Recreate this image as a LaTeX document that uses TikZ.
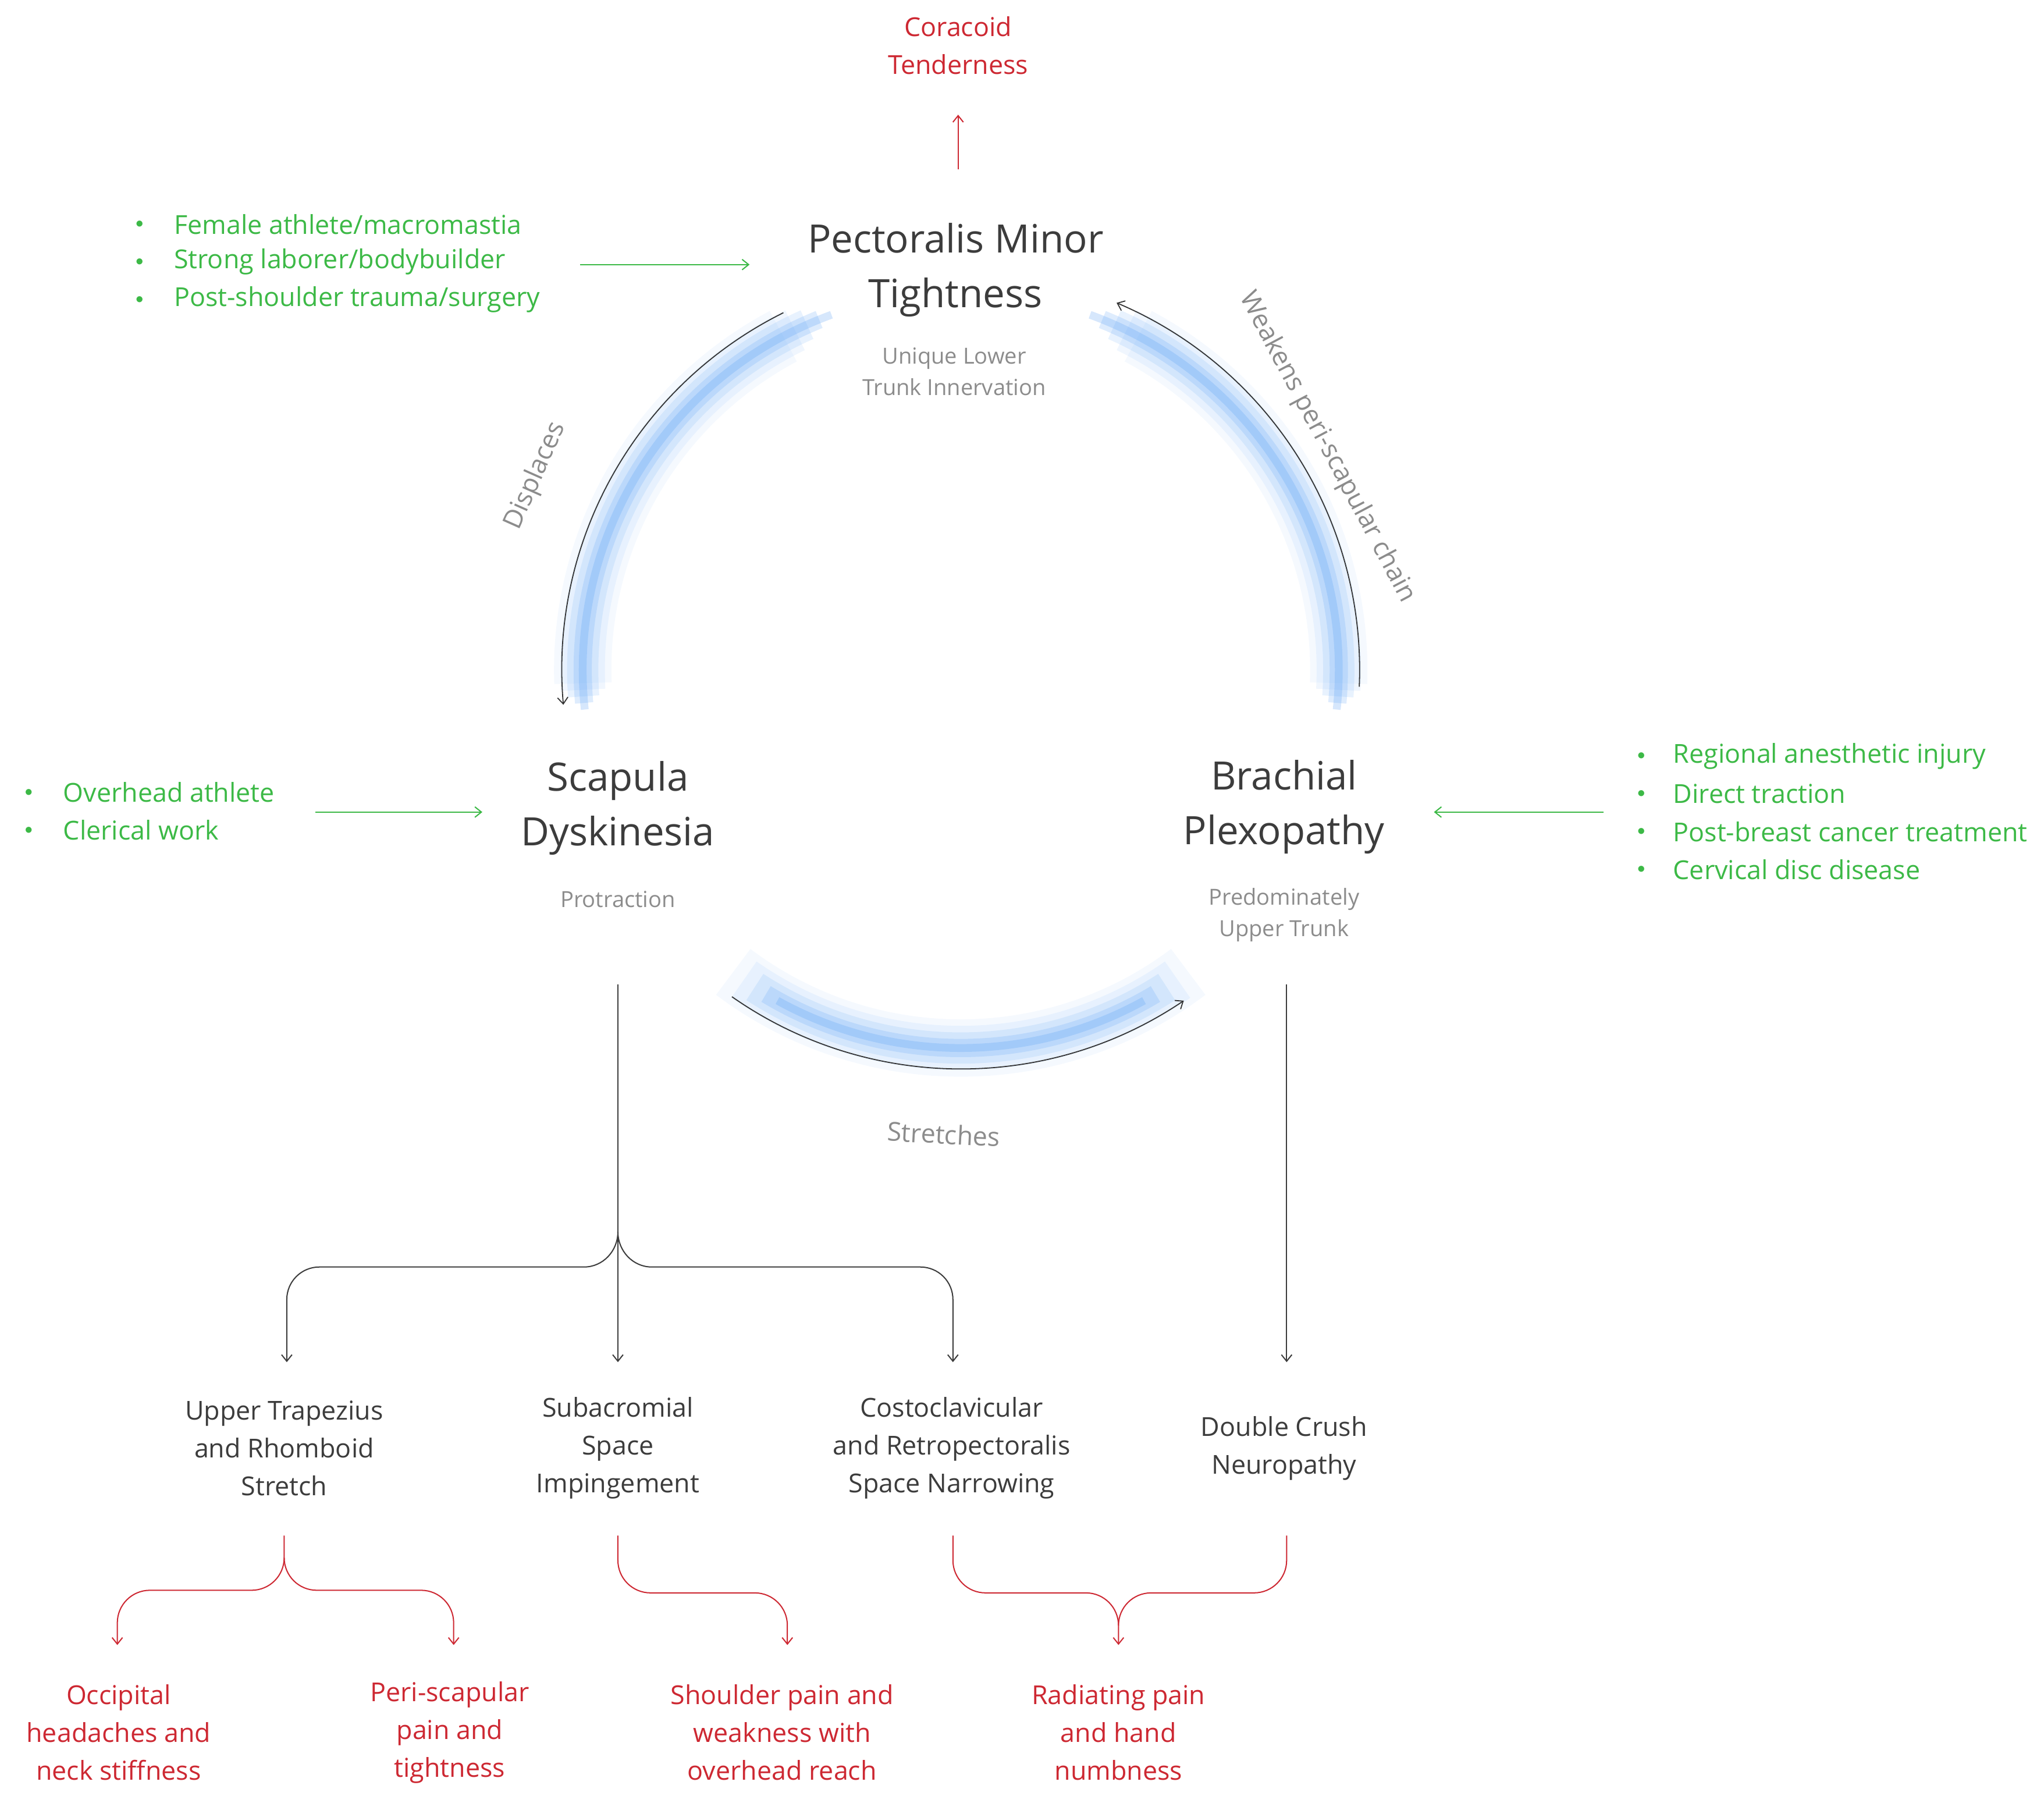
\documentclass[tikz,border=0pt]{standalone}
\usepackage{fontspec}
\setmainfont{Open Sans}
\usetikzlibrary{arrows.meta}
\definecolor{grn}{RGB}{60,185,70}
\definecolor{rd}{RGB}{205,40,50}
\definecolor{dk}{RGB}{60,60,60}
\definecolor{gy}{RGB}{140,140,140}
\definecolor{bl}{RGB}{90,160,245}
\tikzset{
 arr/.style={-{Straight Barb[length=5pt,width=8pt]},line width=0.9pt},
 body/.style={font=\fontsize{20}{29}\selectfont,align=center,text=dk},
 redt/.style={font=\fontsize{20}{29}\selectfont,align=center,text=rd},
 title/.style={font=\fontsize{30}{42}\selectfont,align=center,text=dk},
 sub/.style={font=\fontsize{17}{24}\selectfont,align=center,text=gy},
 lst/.style={font=\fontsize{20}{29}\selectfont,align=left,text=grn,anchor=west},
 lbl/.style={font=\fontsize{20}{24}\selectfont,text=gy},
 bul/.style={text=grn,font=\fontsize{12}{12}\selectfont}
}
\begin{document}
\begin{tikzpicture}[x=1pt,y=-1pt]
\useasboundingbox (0,0) rectangle (1568,1383);
\coordinate (C) at (737,514);
% glows
\foreach \w/\o/\a in {44/0.06/0,34/0.09/2,24/0.14/4,14/0.2/6,6/0.25/8}{
 \draw[bl,line width=\w pt,opacity=\o] ([shift={(-118+\a:290)}]C) arc[start angle=-118+\a,end angle=-182-\a/2,radius=290];
 \draw[bl,line width=\w pt,opacity=\o] ([shift={(-62-\a:290)}]C) arc[start angle=-62-\a,end angle=2+\a/2,radius=290];
 \draw[bl,line width=\w pt,opacity=\o] ([shift={(127-\a:290)}]C) arc[start angle=127-\a,end angle=53+\a,radius=290];
}
% arcs
\coordinate (la) at ([shift={(-116.4:306)}]C);
\coordinate (ra) at ([shift={(2.4:306)}]C);
\coordinate (ba) at ([shift={(125:306)}]C);
\draw[arr,line width=0.8pt,black!80] (la) arc[start angle=-116.4,end angle=-185,radius=306];
\draw[arr,line width=0.8pt,black!80] (ra) arc[start angle=2.4,end angle=-67,radius=306];
\draw[arr,line width=0.8pt,black!80] (ba) arc[start angle=125,end angle=56,radius=306];
\node[lbl,rotate=66] (dis) at (411,365) {Displaces};
\node[lbl,rotate=-62] (wk) at (1018,343) {Weakens peri-scapular chain};
\node[lbl,rotate=-3] (st) at (724,870) {Stretches};
% main nodes
\node[title] (pm) at (733,207) {Pectoralis Minor\\Tightness};
\node[sub] (pms) at (732,285) {Unique Lower\\Trunk Innervation};
\node[title] (sd) at (474,620) {Scapula\\Dyskinesia};
\node[sub] (sds) at (474,690) {Protraction};
\node[title] (bp) at (985,619) {Brachial\\Plexopathy};
\node[sub] (bps) at (985,702) {Predominately\\Upper Trunk};
\node[redt] (ct) at (735,35) {Coracoid\\Tenderness};
\coordinate (ct0) at (735,130);\coordinate (ct1) at (735,88);
\draw[arr,rd] (ct0) -- (ct1);
% lists
\foreach \t/\y in {{Female athlete/macromastia}/172,{Strong laborer/bodybuilder}/201,{Post-shoulder trauma/surgery}/230}{
 \node[bul] at (107,\y) {$\bullet$};
 \node[lst] at (130,\y) {\t};}
\foreach \t/\y in {{Overhead athlete}/608,{Clerical work}/637}{
 \node[bul] at (22,\y) {$\bullet$};
 \node[lst] at (45,\y) {\t};}
\foreach \t/\y in {{Regional anesthetic injury}/580,{Direct traction}/609,{Post-breast cancer treatment}/638,{Cervical disc disease}/667}{
 \node[bul] at (1259,\y) {$\bullet$};
 \node[lst] at (1280,\y) {\t};}
\coordinate (g1a) at (445,203);\coordinate (g1b) at (575,203);
\coordinate (g2a) at (242,623);\coordinate (g2b) at (370,623);
\coordinate (g3a) at (1230,623);\coordinate (g3b) at (1100,623);
\draw[arr,grn] (g1a)--(g1b); \draw[arr,grn] (g2a)--(g2b); \draw[arr,grn] (g3a)--(g3b);
% bottom nodes
\node[body] (ut) at (218,1111) {Upper Trapezius\\and Rhomboid\\Stretch};
\node[body] (sa) at (474,1111) {Subacromial\\Space\\Impingement};
\node[body] (cc) at (730,1111) {Costoclavicular\\and Retropectoralis\\Space Narrowing};
\node[body] (dc) at (985,1111) {Double Crush\\Neuropathy};
\node[redt] (oc) at (91,1329) {Occipital\\headaches and\\neck stiffness};
\node[redt] (ps) at (345,1329) {Peri-scapular\\pain and\\tightness};
\node[redt] (sp) at (600,1329) {Shoulder pain and\\weakness with\\overhead reach};
\node[redt] (rp) at (858,1329) {Radiating pain\\and hand\\numbness};
% dark tree
\coordinate (s0) at (474,755);\coordinate (s1) at (474,1045);
\draw[arr,dk] (s0)--(s1);
\draw[arr,dk] (474,945) to[out=-90,in=180] (500,972) -- (706,972) to[out=0,in=90] (731,997) -- (731,1045);
\draw[arr,dk] (474,945) to[out=-90,in=0] (448,972) -- (245,972) to[out=180,in=90] (220,997) -- (220,1045);
\coordinate (b0) at (987,755);\coordinate (b1) at (987,1045);
\draw[arr,dk] (b0)--(b1);
% red braces
\draw[arr,rd] (218,1178) -- (218,1195) to[out=-90,in=0] (193,1220) -- (115,1220) to[out=180,in=90] (90,1245) -- (90,1262);
\draw[arr,rd] (218,1195) to[out=-90,in=180] (243,1220) -- (323,1220) to[out=0,in=90] (348,1245) -- (348,1262);
\draw[arr,rd] (474,1178) -- (474,1197) to[out=-90,in=180] (499,1222) -- (579,1222) to[out=0,in=90] (604,1247) -- (604,1262);
\draw[rd,line width=0.9pt] (731,1178) -- (731,1197) to[out=-90,in=180] (756,1222) -- (833,1222) to[out=0,in=90] (858,1247);
\draw[arr,rd] (987,1178) -- (987,1197) to[out=-90,in=0] (962,1222) -- (883,1222) to[out=180,in=90] (858,1247) -- (858,1262);
\end{tikzpicture}
\end{document}
